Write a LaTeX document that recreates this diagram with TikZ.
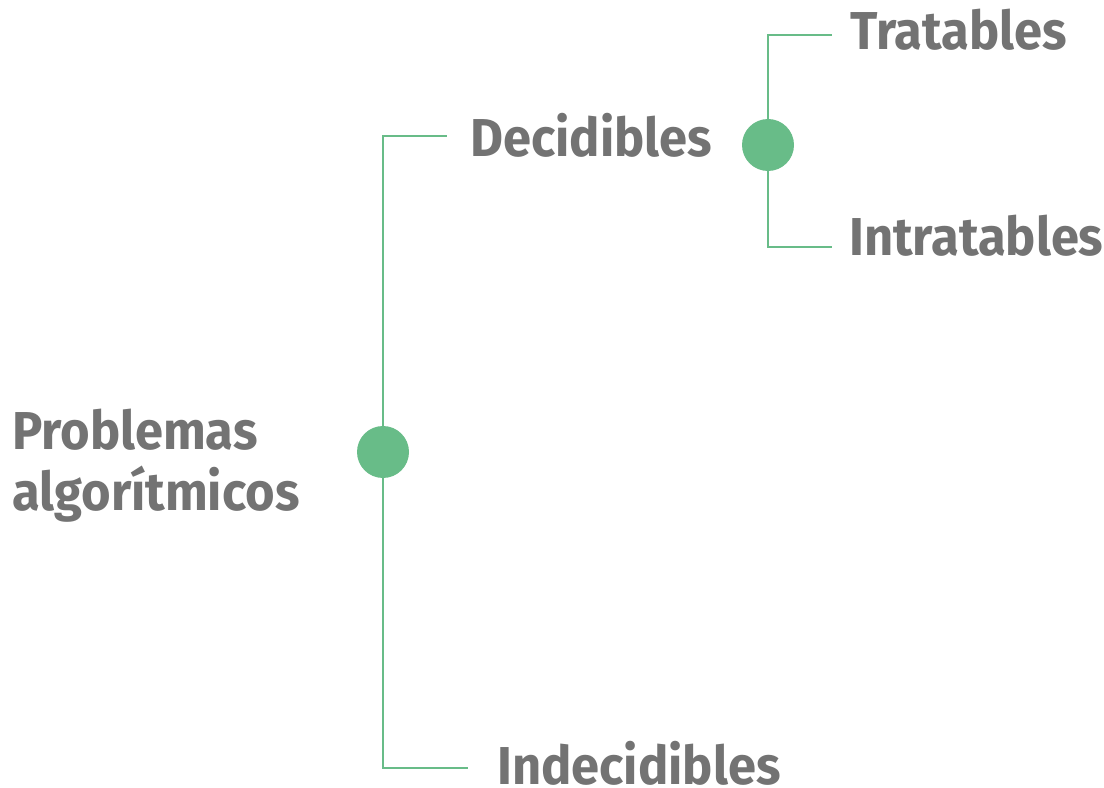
\documentclass[tikz,border=0pt]{standalone}
\usepackage{fontspec}
\setmainfont{Fira Sans}[FakeStretch=0.95]
\usetikzlibrary{positioning}
\definecolor{leafgreen}{HTML}{68BC88}
\definecolor{textgray}{HTML}{737373}

\begin{document}
\begin{tikzpicture}[
  x=0.75pt, y=-0.75pt,
  font=\fontsize{40}{45.75}\selectfont\bfseries,
  dot/.style={circle, fill=leafgreen, minimum size=39pt, inner sep=0pt},
  txt/.style={text=textgray, anchor=base west, inner sep=0pt, align=left},
  branch/.style={draw=leafgreen, line width=2.2pt},
]
\useasboundingbox (0,0) rectangle (1104,788);

% Dots
\node[dot] (root) at (383,452) {};
\node[dot] (dec)  at (768,145) {};

% Labels
\node[txt] (problemas) at (12,510) {Problemas\\algorítmicos};
\node[txt] (decidibles)   at (470,157) {Decidibles};
\node[txt] (indecidibles) at (497,784) {Indecidibles};
\node[txt] (tratables)    at (850,50)  {Tratables};
\node[txt] (intratables)  at (849,256) {Intratables};

% Line ends
\coordinate (decEnd)    at (447,136);
\coordinate (indecEnd)  at (468,768);
\coordinate (tratEnd)   at (832,35);
\coordinate (intratEnd) at (832,247);

% Branches
\draw[branch] (root) |- (decEnd);
\draw[branch] (root) |- (indecEnd);
\draw[branch] (dec) |- (tratEnd);
\draw[branch] (dec) |- (intratEnd);
\end{tikzpicture}
\end{document}
